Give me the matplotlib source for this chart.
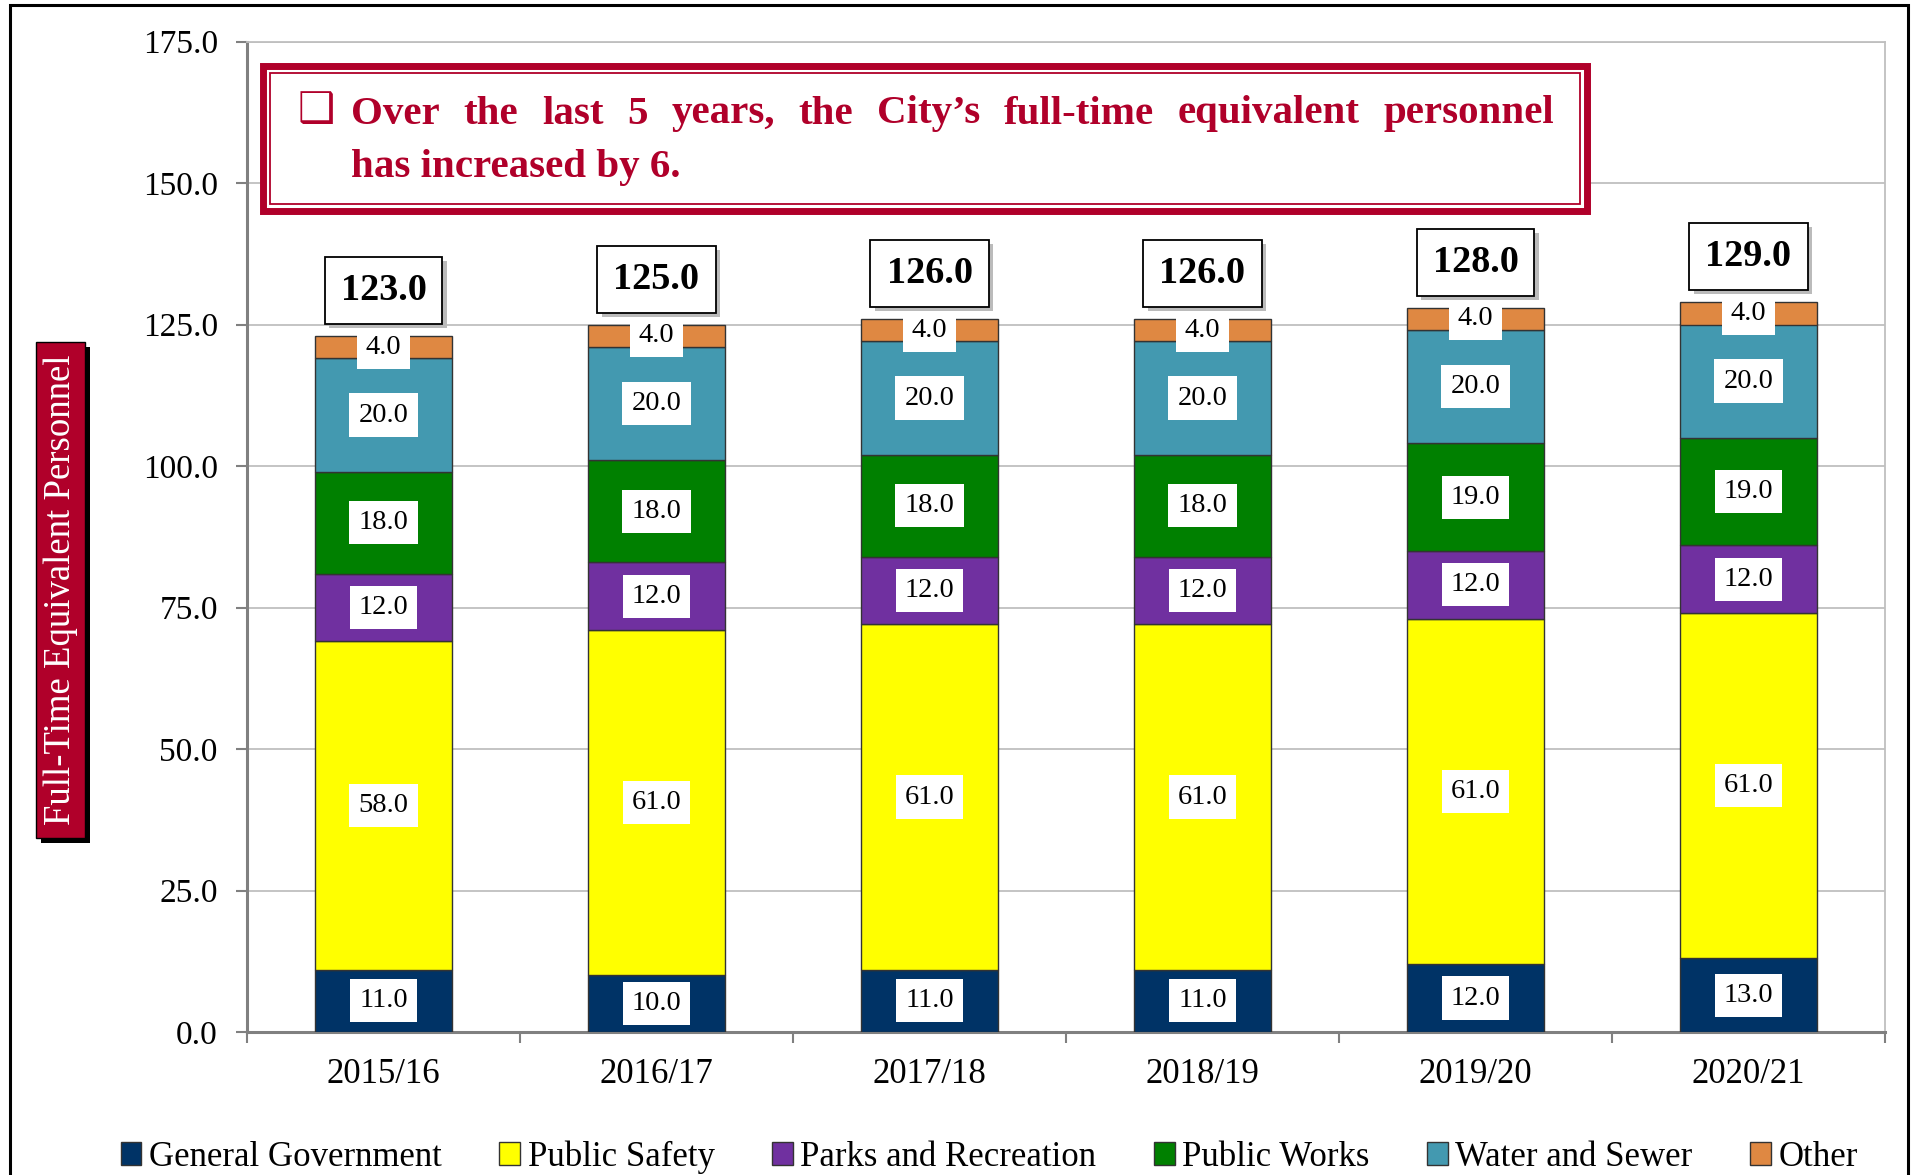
import numpy as np
import matplotlib
matplotlib.use('Agg')
import matplotlib.pyplot as plt
from matplotlib.patches import Rectangle
import matplotlib.patheffects as pe

# data
years = ['2015/16', '2016/17', '2017/18', '2018/19', '2019/20', '2020/21']
general_gov = [11, 10, 11, 11, 12, 13]
public_safety = [58, 61, 61, 61, 61, 61]
parks_rec = [12, 12, 12, 12, 12, 12]
public_works = [18, 18, 18, 18, 19, 19]
water_sewer = [20, 20, 20, 20, 20, 20]
other = [4, 4, 4, 4, 4, 4]
series_names = ['General Government', 'Public Safety', 'Parks and Recreation',
                'Public Works', 'Water and Sewer', 'Other']
colors = ['#003366', '#FFFF00', '#7030A0', '#008000', '#4399B0', '#DF8842']

red = '#B0002A'
plt.rcParams['font.family'] = ['Liberation Serif', 'DejaVu Serif']

W, H = 1911, 1175
fig = plt.figure(figsize=(W / 100, H / 100), dpi=100)


def fx(px):
    return px / W


def fy(py):
    return 1 - py / H


# outer frame of the picture
fig.patches.append(Rectangle((fx(10), fy(1190)), fx(1908) - fx(10), fy(5) - fy(1190),
                             transform=fig.transFigure, fill=False,
                             edgecolor='black', lw=2.2))

ax = fig.add_axes([fx(247), fy(1032), fx(1885) - fx(247), fy(41.5) - fy(1032)])

x = np.arange(len(years))
series = [general_gov, public_safety, parks_rec, public_works, water_sewer, other]
bottom = np.zeros(len(years))
handles = []
for vals, name, c in zip(series, series_names, colors):
    vals = np.array(vals, dtype=float)
    b = ax.bar(x, vals, 0.5, bottom=bottom, color=c, edgecolor='#333333',
               linewidth=1.0, zorder=3, label=name)
    handles.append(b)
    for xi, bi, v in zip(x, bottom, vals):
        ax.text(xi, bi + v / 2, f'{v:.1f}', ha='center', va='center', fontsize=20.5,
                color='black', zorder=5,
                bbox=dict(boxstyle='square,pad=0.32', facecolor='white', edgecolor='none'))
    bottom = bottom + vals

# totals in boxes with a soft shadow
totals = bottom
for xi, t in zip(x, totals):
    lab = ax.text(xi, t + 8.0, f'{t:.1f}', ha='center', va='center', fontsize=27.5,
                  fontweight='bold', color='black', zorder=5,
                  bbox=dict(boxstyle='square,pad=0.42', facecolor='white',
                            edgecolor='black', linewidth=1.3))
    lab.get_bbox_patch().set_path_effects([
        pe.SimplePatchShadow(offset=(3, -3), shadow_rgbFace='#BBBBBB', alpha=1.0),
        pe.Normal()])

ax.set_xlim(-0.5, 5.5)
ax.set_ylim(0, 175)
ax.set_yticks(np.arange(0, 176, 25))
ax.set_yticklabels([f'{v:.1f}' for v in np.arange(0, 176, 25)], fontsize=24)
ax.set_xticks(x)
ax.set_xticklabels(years, fontsize=25)
ax.set_xticks(np.arange(-0.5, 5.6, 1), minor=True)
ax.tick_params(axis='x', which='major', length=0, pad=19)
ax.tick_params(axis='x', which='minor', length=8, width=1.5, color='#808080', direction='out')
ax.tick_params(axis='y', length=8, width=1.5, color='#808080', pad=13, direction='out')
ax.yaxis.grid(True, color='#BFBFBF', linewidth=1.3, zorder=0)
ax.set_axisbelow(True)
for s in ['top', 'right']:
    ax.spines[s].set_color('#BFBFBF')
    ax.spines[s].set_linewidth(1.3)
for s in ['left', 'bottom']:
    ax.spines[s].set_color('#808080')
    ax.spines[s].set_linewidth(2.2)

# title box with double red border
fig.patches.append(Rectangle((fx(262.5), fy(210.5)), fx(1586.5) - fx(262.5), fy(65.5) - fy(210.5),
                             transform=fig.transFigure, facecolor='white',
                             edgecolor=red, lw=5, zorder=6))
fig.patches.append(Rectangle((fx(269.5), fy(203.5)), fx(1579.5) - fx(269.5), fy(73.5) - fy(203.5),
                             transform=fig.transFigure, fill=False,
                             edgecolor=red, lw=1.3, zorder=7))
fig.text(fx(316), fy(110), '\u2751', fontsize=30, fontweight='bold', color=red,
         ha='center', va='center', family=['DejaVu Sans'], zorder=8)

# first line justified word by word
line1 = "Over the last 5 years, the City\u2019s full-time equivalent personnel".split(' ')
left, right = 351, 1554
words = [fig.text(fx(left), fy(114), w, fontsize=29.5, fontweight='bold', color=red,
                  ha='left', va='center', zorder=8) for w in line1]
fig.canvas.draw()
r = fig.canvas.get_renderer()
widths = [t.get_window_extent(r).width for t in words]
gap = (right - left - sum(widths)) / (len(words) - 1)
pos = left
for t, w in zip(words, widths):
    t.set_x(fx(pos))
    pos += w + gap
fig.text(fx(left), fy(167), 'has increased by 6.', fontsize=29.5, fontweight='bold',
         color=red, ha='left', va='center', zorder=8)

# y label box
fig.patches.append(Rectangle((fx(41), fy(843)), fx(90) - fx(41), fy(347) - fy(843),
                             transform=fig.transFigure, facecolor='black', edgecolor='none'))
fig.patches.append(Rectangle((fx(36), fy(838)), fx(85) - fx(36), fy(342) - fy(838),
                             transform=fig.transFigure, facecolor=red, edgecolor='black', lw=1))
fig.text(fx(61), fy(590), 'Full-Time Equivalent Personnel', rotation=90, fontsize=26.5,
         color='white', ha='center', va='center')

fig.legend(handles, series_names, loc='center', bbox_to_anchor=(0.5176, fy(1157)), ncol=6,
           frameon=False, fontsize=25, handlelength=0.6, handleheight=0.6,
           handletextpad=0.22, columnspacing=1.65)

fig.savefig('out.png', dpi=100)
